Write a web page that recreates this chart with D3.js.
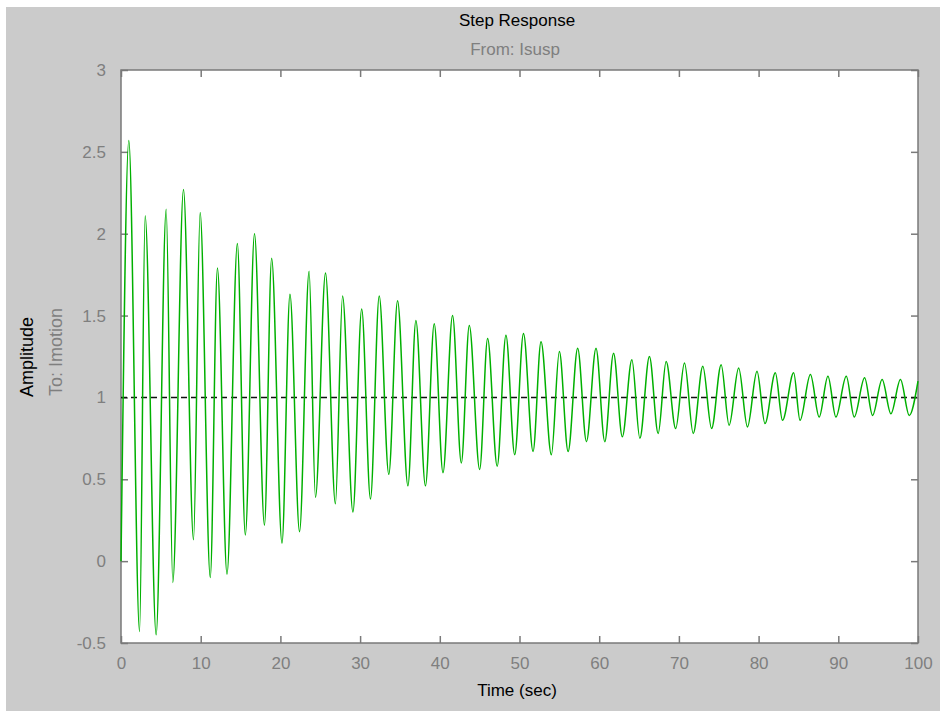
<!DOCTYPE html>
<html>
<head>
<meta charset="UTF-8" />
<title>Step Response</title>
<script src="https://d3js.org/d3.v7.min.js"></script>
<style>
  body { margin: 0; background: #fff; }
  text { font-family: "Liberation Sans", Arial, sans-serif; }
  .resp { fill: none; stroke: #00b000; stroke-width: 1.5; }
  .final { fill: none; stroke: #111; stroke-width: 1.5; stroke-dasharray: 6,4; }
  .axis path, .axis line { stroke: #7a7a7a; }
  .axis text { fill: #7f7f7f; font-size: 17px; }
</style>
</head>
<body>
<script>
// extrema of the step response (time in sec, amplitude)
var timeSec = [0, 0.05, 0.98, 2.33, 3.03, 4.41, 5.67, 6.5, 7.84, 9.1, 9.93, 11.2, 12.1, 13.3, 14.6, 15.6,
  16.75, 18.0, 18.9, 20.2, 21.2, 22.4, 23.6, 24.4, 25.66, 26.9, 27.8, 29.1, 30.2, 31.3, 32.4, 33.6,
  34.7, 36.0, 37.0, 38.2, 39.3, 40.4, 41.6, 42.7, 43.7, 45.0, 46.0, 47.2, 48.3, 49.4, 50.5, 51.7,
  52.7, 54.0, 55.0, 56.1, 57.3, 58.4, 59.6, 60.7, 61.8, 62.9, 64.1, 65.1, 66.3, 67.4, 68.4, 69.6,
  70.7, 71.8, 73.0, 74.1, 75.3, 76.3, 77.5, 78.6, 79.8, 80.8, 82.1, 83.0, 84.4, 85.2, 86.5, 87.6,
  88.7, 89.7, 91.0, 92.0, 93.3, 94.3, 95.5, 96.6, 97.8, 98.9, 100];
var amplitude = [0, 0.19, 2.57, -0.43, 2.11, -0.45, 2.15, -0.13, 2.27, 0.13, 2.13, -0.10, 1.79, -0.08, 1.94, 0.16,
  2.00, 0.22, 1.85, 0.11, 1.63, 0.18, 1.77, 0.39, 1.76, 0.35, 1.62, 0.30, 1.54, 0.38, 1.62, 0.53,
  1.59, 0.46, 1.47, 0.46, 1.45, 0.54, 1.50, 0.60, 1.44, 0.56, 1.36, 0.58, 1.38, 0.65, 1.39, 0.67,
  1.34, 0.65, 1.28, 0.67, 1.30, 0.73, 1.30, 0.73, 1.27, 0.76, 1.23, 0.75, 1.25, 0.78, 1.22, 0.81,
  1.21, 0.78, 1.19, 0.81, 1.20, 0.83, 1.18, 0.82, 1.16, 0.84, 1.15, 0.86, 1.15, 0.86, 1.14, 0.88,
  1.13, 0.88, 1.13, 0.88, 1.12, 0.89, 1.11, 0.90, 1.11, 0.89, 1.10];
var finalValue = 1;
var xTicks = [0, 10, 20, 30, 40, 50, 60, 70, 80, 90, 100];
var yTicks = [-0.5, 0, 0.5, 1, 1.5, 2, 2.5, 3];

var width = 940, height = 711;
var plotLeft = 121, plotTop = 70, plotRight = 918, plotBottom = 643;

var svg = d3.select("body").append("svg").attr("width", width).attr("height", height);
svg.append("rect").attr("x", 6).attr("y", 7).attr("width", width - 6).attr("height", height - 7).attr("fill", "#cbcbcb");
svg.append("rect").attr("x", plotLeft).attr("y", plotTop).attr("width", plotRight - plotLeft)
  .attr("height", plotBottom - plotTop).attr("fill", "#fff");

var x = d3.scaleLinear().domain([0, 100]).range([plotLeft, plotRight]);
var y = d3.scaleLinear().domain([-0.5, 3]).range([plotBottom, plotTop]);

var fmt = function(d) { return String(d); };
svg.append("g").attr("class", "axis").attr("transform", "translate(0," + plotBottom + ")")
  .call(d3.axisBottom(x).tickValues(xTicks).tickSize(-7).tickPadding(14).tickFormat(fmt));
svg.append("g").attr("class", "axis").attr("transform", "translate(" + plotLeft + ",0)")
  .call(d3.axisLeft(y).tickValues(yTicks).tickSize(-7).tickPadding(15).tickFormat(fmt));
svg.append("g").attr("class", "axis").attr("transform", "translate(0," + plotTop + ")")
  .call(d3.axisTop(x).tickValues(xTicks).tickSize(-7).tickFormat(""));
svg.append("g").attr("class", "axis").attr("transform", "translate(" + plotRight + ",0)")
  .call(d3.axisRight(y).tickValues(yTicks).tickSize(-7).tickFormat(""));
svg.selectAll(".axis line").attr("stroke-width", 1.5);
svg.selectAll(".axis .domain").remove();
svg.append("rect").attr("x", plotLeft).attr("y", plotTop).attr("width", plotRight - plotLeft)
  .attr("height", plotBottom - plotTop)
  .attr("fill", "none").attr("stroke", "#7a7a7a").attr("stroke-width", 1.5);

svg.append("line").attr("class", "final")
  .attr("x1", x(0)).attr("x2", x(100)).attr("y1", y(finalValue)).attr("y2", y(finalValue));

var pts = timeSec.map(function(t, i) { return [t, amplitude[i]]; });
var line = d3.line().curve(d3.curveMonotoneX)
  .x(function(d) { return x(d[0]); }).y(function(d) { return y(d[1]); });
svg.append("path").datum(pts).attr("class", "resp").attr("d", line);

svg.append("text").attr("x", 517).attr("y", 26).attr("text-anchor", "middle")
  .attr("font-size", 17).attr("fill", "#000").text("Step Response");
svg.append("text").attr("x", 515).attr("y", 55).attr("text-anchor", "middle")
  .attr("font-size", 17).attr("fill", "#7f7f7f").text("From: Isusp");
svg.append("text").attr("x", 517).attr("y", 696).attr("text-anchor", "middle")
  .attr("font-size", 17).attr("fill", "#000").text("Time (sec)");
svg.append("text").attr("transform", "translate(33,357) rotate(-90)").attr("text-anchor", "middle")
  .attr("font-size", 18).attr("fill", "#000").text("Amplitude");
svg.append("text").attr("transform", "translate(62,352) rotate(-90)").attr("text-anchor", "middle")
  .attr("font-size", 18).attr("fill", "#7f7f7f").text("To: Imotion");
</script>
</body>
</html>
